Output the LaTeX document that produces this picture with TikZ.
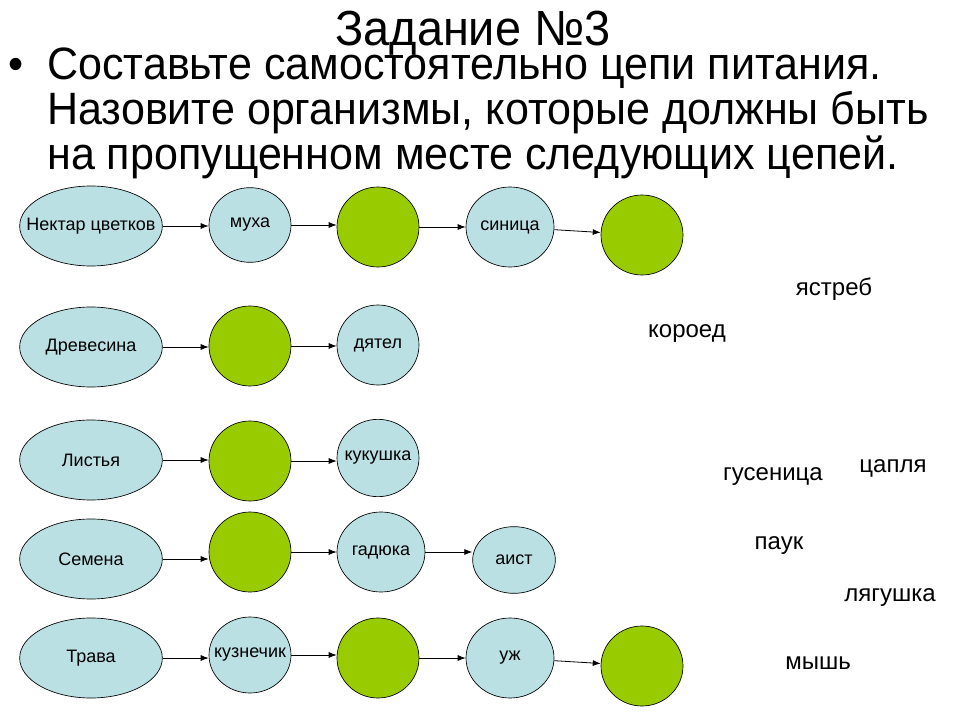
\documentclass[tikz,border=0pt]{standalone}
\usepackage{fontspec}
\setmainfont{Liberation Sans}
\newfontfamily\narrowfont[FakeStretch=0.95]{Liberation Sans}
\usetikzlibrary{arrows.meta,shapes.geometric}
\definecolor{foodblue}{RGB}{187,224,227}
\definecolor{gapgreen}{RGB}{153,204,0}

\begin{document}
\begin{tikzpicture}[x=0.75pt, y=-0.75pt,
    heading/.style={font=\narrowfont\fontsize{34}{40}\selectfont, inner sep=0pt, anchor=base},
    taskline/.style={heading, anchor=base west},
    organism/.style={draw, ellipse, fill=foodblue, line width=0.5pt, inner xsep=-40pt, inner ysep=0pt, font=\fontsize{13.5}{16}\selectfont},
    source/.style={organism, minimum width=107pt, minimum height=60pt},
    animal/.style={organism, minimum width=61.5pt, minimum height=60pt},
    gap/.style={animal, fill=gapgreen},
    answer/.style={font=\fontsize{18}{22}\selectfont, inner sep=0pt, anchor=base},
    arrow/.style={-{Latex[length=6pt,width=4.5pt]}, line width=0.6pt}
]
\useasboundingbox (0,0) rectangle (960,720);

% Title and task
\node[heading, font=\narrowfont\fontsize{37}{40}\selectfont] (title) at (473,46) {Задание №3};
\node[heading, anchor=base west] (bullet) at (8,80) {•};
\node[taskline] (task1) at (47,80) {Составьте самостоятельно цепи питания.};
\node[taskline] (task2) at (47,125) {Назовите организмы, которые должны быть};
\node[taskline] (task3) at (47,170) {на пропущенном месте следующих цепей.};

% Chain 1
\node[source] (nectar) at (91,226) {Нектар цветков};
\node[animal, minimum height=56pt] (fly) at (250,225) {муха};
\node[gap] (gap1a) at (378,227) {};
\node[animal, minimum width=66pt] (tit) at (510,227) {синица};
\node[gap] (gap1b) at (642,235) {};

% Chain 2
\node[source] (wood) at (91,347) {Древесина};
\node[gap] (gap2) at (250,346) {};
\node[animal] (woodpecker) at (378,345) {дятел};

% Chain 3
\node[source] (leaves) at (91,460) {Листья};
\node[gap] (gap3) at (250,461) {};
\node[animal, minimum height=58pt] (cuckoo) at (378,458) {кукушка};

% Chain 4
\node[source] (seeds) at (91,559) {Семена};
\node[gap] (gap4) at (250,552) {};
\node[animal, minimum width=66pt] (viper) at (381,552) {гадюка};
\node[animal, minimum width=62pt, minimum height=50pt] (stork) at (514,560) {аист};

% Chain 5
\node[source] (grass) at (91,658) {Трава};
\node[animal, minimum height=57pt] (grasshopper) at (250,655) {кузнечик};
\node[gap] (gap5a) at (378,658) {};
\node[animal, minimum width=66pt] (snake) at (510,658) {уж};
\node[gap] (gap5b) at (642,666) {};

% Arrows
\draw[arrow] (nectar) -- (nectar -| fly.west);
\draw[arrow] (fly) -- (fly -| gap1a.west);
\draw[arrow] (gap1a) -- (gap1a -| tit.west);
\draw[arrow] (tit) -- (gap1b);
\draw[arrow] (wood) -- (wood -| gap2.west);
\draw[arrow] (gap2) -- (gap2 -| woodpecker.west);
\draw[arrow] (leaves) -- (leaves -| gap3.west);
\draw[arrow] (gap3) -- (gap3 -| cuckoo.west);
\draw[arrow] (seeds) -- (seeds -| gap4.west);
\draw[arrow] (gap4) -- (gap4 -| viper.west);
\draw[arrow] (viper) -- (viper -| stork.west);
\draw[arrow] (grass) -- (grass -| grasshopper.west);
\draw[arrow] (grasshopper) -- (grasshopper -| gap5a.west);
\draw[arrow] (gap5a) -- (gap5a -| snake.west);
\draw[arrow] (snake) -- (gap5b);

% Words to choose from
\node[answer] (hawk) at (834,296) {ястреб};
\node[answer] (beetle) at (687,337) {короед};
\node[answer] (caterpillar) at (773,480) {гусеница};
\node[answer] (heron) at (893,472) {цапля};
\node[answer] (spider) at (779,549) {паук};
\node[answer] (frog) at (890,601) {лягушка};
\node[answer] (mouse) at (818,669) {мышь};

\end{tikzpicture}
\end{document}
